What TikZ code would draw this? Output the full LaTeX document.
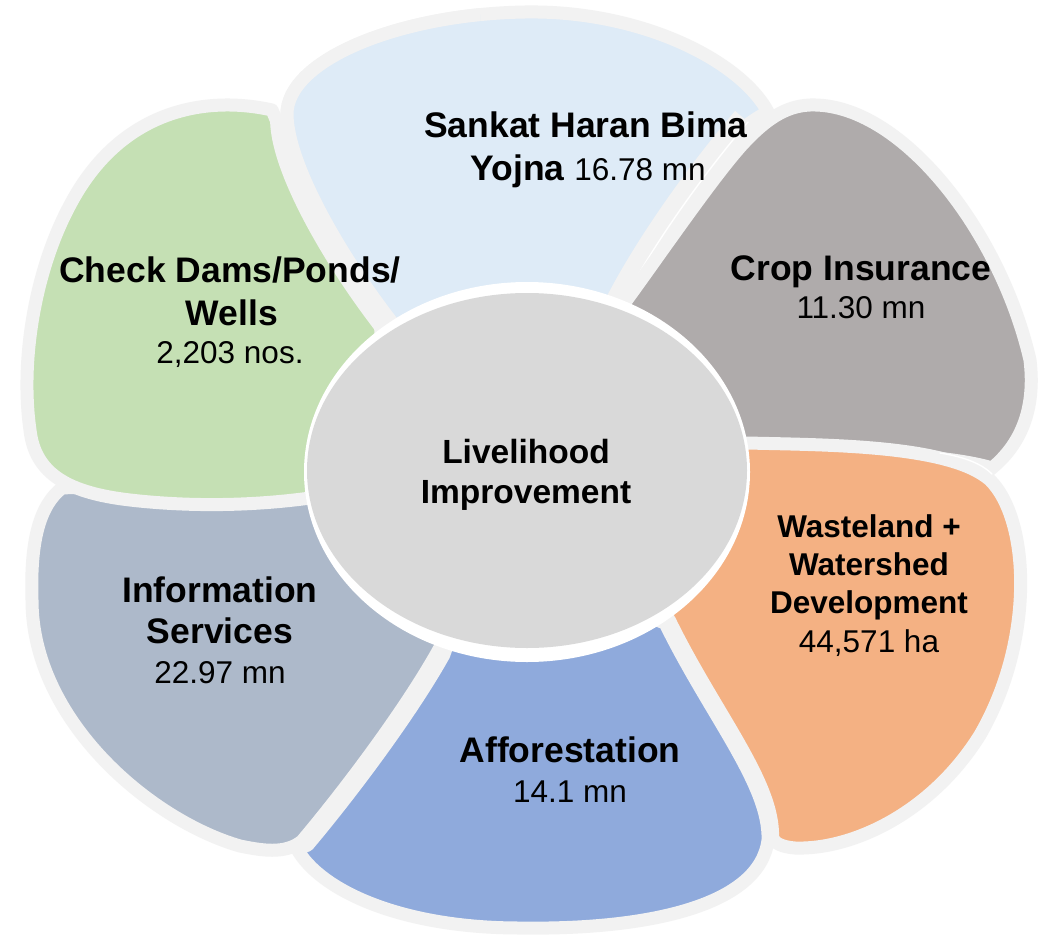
\documentclass[tikz,border=0pt]{standalone}
\usepackage{fontspec}
\setmainfont{Liberation Sans}
\definecolor{rim}{HTML}{F2F2F2}
\definecolor{cSankat}{HTML}{DEEBF7}
\definecolor{cCrop}{HTML}{AFABAB}
\definecolor{cWaste}{HTML}{F4B183}
\definecolor{cAffor}{HTML}{8FAADC}
\definecolor{cInfo}{HTML}{ADB9CA}
\definecolor{cCheck}{HTML}{C5E0B4}
\definecolor{cCenter}{HTML}{D9D9D9}
\def\PathSankat{(440,390) -- (391,321) .. controls (340,255) and (288,165) .. (287,115)
  .. controls (286,60) and (400,14) .. (525,12) .. controls (640,10) and (740,60) .. (768,112)
  .. controls (720,135) and (650,225) .. (612,305) .. controls (590,360) and (520,400) .. cycle}
\def\PathCrop{(618,312) -- (634,290) .. controls (670,240) and (715,175) .. (742,145)
  .. controls (765,120) and (785,106) .. (810,105)
  .. controls (900,102) and (1000,230) .. (1030,360) .. controls (1036,410) and (1020,445) .. (992,468)
  .. controls (950,455) and (850,450) .. (760,452) -- (700,420) -- cycle}
\def\PathWaste{(700,470) -- (747,443) .. controls (830,445) and (950,445) .. (990,480)
  .. controls (1030,520) and (1035,640) .. (980,735) .. controls (930,815) and (850,850) .. (795,848)
  .. controls (782,847) and (774,843) .. (772.5,837.5)
  .. controls (774.5,782.5) and (714.5,712.5) .. (669.5,620.5) -- (630,560) -- cycle}
\def\PathAffor{(600,600) -- (665,623) .. controls (710,715) and (770,785) .. (768,840)
  .. controls (760,905) and (650,930) .. (520,928) .. controls (400,928) and (320,890) .. (297,849)
  -- (307.7,845.1) .. controls (350.7,794.1) and (410.7,714.1) .. (443.7,655.1) -- (460,610) -- cycle}
\def\PathInfo{(330,480) -- (460,612) -- (438,651) .. controls (405,710) and (345,790) .. (302,841)
  .. controls (285,855) and (260,850) .. (240,846) .. controls (150,820) and (32,720) .. (32,600)
  .. controls (30,540) and (40,505) .. (62,488) .. controls (120,485) and (250,490) .. cycle}
\def\PathCheck{(272,110) .. controls (205,95) and (120,110) .. (70,205)
  .. controls (35,270) and (20,360) .. (30,430) .. controls (35,475) and (70,493) .. (130,500)
  .. controls (200,508) and (270,505) .. (330,495) -- (385,420) -- (380.6,327)
  .. controls (329.6,261) and (277.6,171) .. (276.6,121) -- cycle}
\begin{document}
\begin{tikzpicture}[x=1pt,y=-1pt,
  petal/.style={draw=rim,line width=13pt,line join=round},
  gap/.style={draw=white,line width=1.4pt,line cap=round},
  bl/.style={anchor=base,inner sep=0pt,font=\fontsize{35.5}{40}\selectfont\bfseries},
  rl/.style={anchor=base,inner sep=0pt,font=\fontsize{31.5}{40}\selectfont},
  wl/.style={anchor=base,inner sep=0pt,font=\fontsize{31.5}{40}\selectfont\bfseries},
  cl/.style={anchor=base,inner sep=0pt,font=\fontsize{33.5}{40}\selectfont\bfseries}]
\useasboundingbox (0,0) rectangle (1043,934);
\fill[white] (0,0) rectangle (1043,934);
% petals, cyclic overlap
\path[petal,fill=cSankat] \PathSankat;
\coordinate (ga) at (748,122);
\coordinate (gb) at (615,318);
\draw[rim,line width=34pt] (ga) .. controls (715,160) and (650,245) .. (gb);
\draw[gap] (ga) .. controls (715,160) and (650,245) .. (gb);
\path[petal,line join=miter,fill=cCrop] \PathCrop;
\path[petal,fill=cWaste] \PathWaste;
\coordinate (gc) at (940,453);
\coordinate (gd) at (992,474);
\draw[gap] (gc) .. controls (965,457) and (982,464) .. (gd);
\path[petal,fill=cAffor] \PathAffor;
\path[petal,fill=cInfo] \PathInfo;
\path[petal,fill=cCheck] \PathCheck;
\begin{scope}
  \clip (0,0) rectangle (480,430);
  \path[petal,fill=cSankat] \PathSankat;
\end{scope}
% centre
\fill[white] (527,472) ellipse [x radius=223, y radius=190];
\fill[cCenter] (527,470.5) ellipse [x radius=220, y radius=177.5];
% texts
\node[cl] (l1) at (526,463) {Livelihood};
\node[cl] (l2) at (526,503) {Improvement};
\node[bl] (s1) at (586,137) {Sankat Haran Bima};
\node[bl] (s2) at (588,180) {Yojna \fontsize{31.5}{40}\selectfont\mdseries 16.78 mn};
\node[bl] (c1) at (861,280) {Crop Insurance};
\node[rl] (c2) at (861,318) {11.30 mn};
\node[wl] (w1) at (869,537) {Wasteland +};
\node[wl] (w2) at (869,575) {Watershed};
\node[wl] (w3) at (869,613) {Development};
\node[rl] (w4) at (869,652) {44,571 ha};
\node[bl] (a1) at (570,762) {Afforestation};
\node[rl] (a2) at (570,802) {14.1 mn};
\node[bl] (i1) at (220,602) {Information};
\node[bl] (i2) at (220,643) {Services};
\node[rl] (i3) at (220,683) {22.97 mn};
\node[bl] (d1) at (230,282) {Check Dams/Ponds/};
\node[bl] (d2) at (232,325) {Wells};
\node[rl] (d3) at (230,363) {2,203 nos.};
\end{tikzpicture}
\end{document}
